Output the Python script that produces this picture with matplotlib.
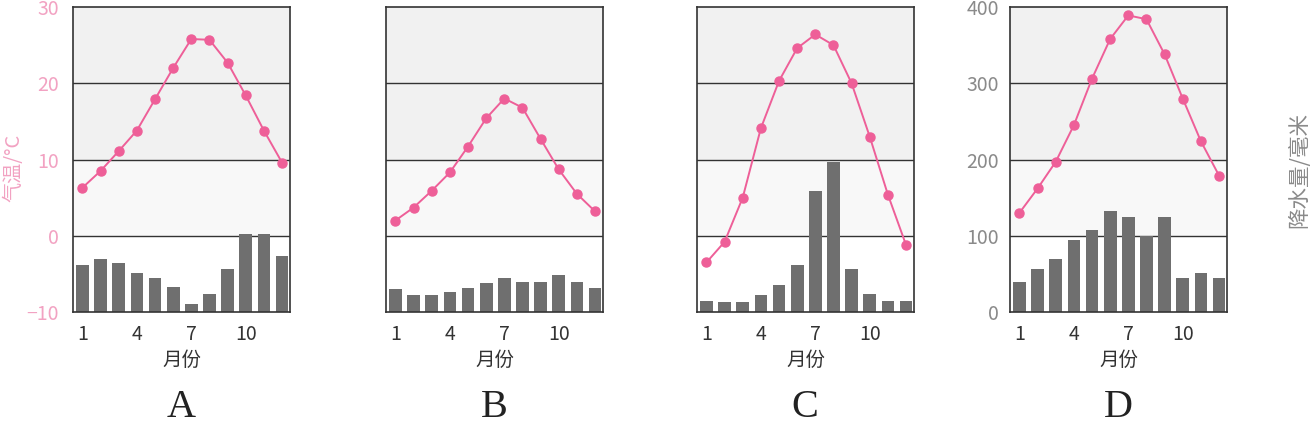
import matplotlib.pyplot as plt

plt.rcParams['font.family'] = ['Noto Sans CJK SC', 'DejaVu Sans']

# 数据
months = list(range(1, 13))
panel_names = ["A", "B", "C", "D"]

temp_a = [6.3, 8.5, 11.1, 13.8, 17.9, 22.0, 25.8, 25.7, 22.7, 18.4, 13.8, 9.6]
temp_b = [2.0, 3.7, 5.9, 8.3, 11.7, 15.4, 18.0, 16.8, 12.7, 8.7, 5.5, 3.2]
temp_c = [-3.5, -0.8, 5.0, 14.1, 20.3, 24.6, 26.4, 25.0, 20.0, 13.0, 5.4, -1.2]
temp_d = [3.0, 6.2, 9.7, 14.5, 20.6, 25.8, 28.9, 28.4, 23.8, 18.0, 12.4, 7.9]

rain_a = [61, 69, 64, 51, 44, 33, 10, 23, 56, 102, 102, 73]
rain_b = [30, 22, 22, 26, 31, 38, 45, 39, 40, 48, 39, 31]
rain_c = [14, 13, 13, 22, 35, 61, 159, 197, 56, 23, 14, 14]
rain_d = [39, 56, 69, 94, 107, 132, 124, 100, 124, 44, 51, 44]

temps = [temp_a, temp_b, temp_c, temp_d]
rains = [rain_a, rain_b, rain_c, rain_d]

temp_ticks = [-10, 0, 10, 20, 30]
rain_ticks = [0, 100, 200, 300, 400]
month_ticks = [1, 4, 7, 10]

pink = '#ee5f98'
pink_light = '#f2a2c2'
bar_grey = '#6f6f6f'
txt_grey = '#8a8a8a'

fig = plt.figure(figsize=(13.14, 4.26), dpi=100)

lefts = [73, 386, 697, 1010]
for i in range(4):
    ax = fig.add_axes([lefts[i] / 1314, 1 - 312 / 426, 217 / 1314, 305 / 426])
    # 降水 (柱)
    ax.set_xlim(0.48, 12.44)
    ax.set_ylim(0, 400)
    ax.axhspan(200, 400, color='#f1f1f1', zorder=0, lw=0)
    ax.axhspan(100, 200, color='#f8f8f8', zorder=0, lw=0)
    for yv in [100, 200, 300]:
        ax.axhline(yv, color='#333333', lw=1.0, zorder=1)
    ax.bar(months, rains[i], width=0.7, color=bar_grey, zorder=2)
    ax.set_xticks(month_ticks)
    ax.set_xticklabels([str(m) for m in month_ticks], fontsize=14, color='#333333',
                       fontweight='light')
    ax.tick_params(axis='both', length=0, pad=9)
    for s in ax.spines.values():
        s.set_color('#333333')
        s.set_linewidth(1.2)
    if i == 3:
        ax.yaxis.tick_right()
        ax.set_yticks(rain_ticks)
        ax.set_yticklabels([str(v) for v in rain_ticks], fontsize=14, color=txt_grey,
                           fontweight='light')
        ax.tick_params(axis='y', pad=8)
    else:
        ax.set_yticks([])
    ax.set_xlabel("月份", fontsize=14, color='#333333', labelpad=3, fontweight='light')

    # 气温 (线)
    ax2 = ax.twinx()
    ax2.set_ylim(-10, 30)
    ax2.plot(months, temps[i], color=pink, lw=1.4, marker='o', markersize=6.5, zorder=3)
    ax2.tick_params(axis='both', length=0)
    for s in ax2.spines.values():
        s.set_visible(False)
    if i == 0:
        ax2.yaxis.tick_left()
        ax2.set_yticks(temp_ticks)
        ax2.set_yticklabels(['\u221210', '0', '10', '20', '30'], fontsize=14, color=pink_light,
                            fontweight='light')
        ax2.tick_params(axis='y', pad=10)
    else:
        ax2.set_yticks([])

    cx = (lefts[i] + 108) / 1314
    fig.text(cx, 9 / 426, panel_names[i], ha='center', va='baseline',
             fontsize=29, family='Liberation Serif', color='#222222')

fig.text(14 / 1314, 1 - 168 / 426, "气温/°C", rotation=90, ha='center', va='center',
         fontsize=14.5, color=pink_light, fontweight='light')
fig.text(1299 / 1314, 1 - 170 / 426, "降水量/毫米", rotation=90, ha='center', va='center',
         fontsize=15.5, color=txt_grey, fontweight='light')

fig.savefig('out.png', dpi=100)
